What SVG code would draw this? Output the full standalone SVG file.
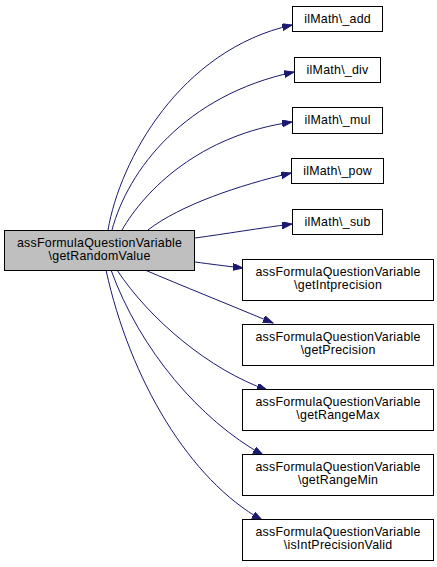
<svg xmlns="http://www.w3.org/2000/svg" width="437" height="567" viewBox="0 0 437 567">
<defs>
<style>
.n rect{fill:#fff;stroke:#000;stroke-width:1}
.n.main rect{fill:#bfbfbf}
.n text{font-family:"Liberation Sans",Arial,sans-serif;font-size:12.4px;letter-spacing:0.25px;fill:#000;text-anchor:middle}
#edges path{fill:none;stroke:#191970;stroke-width:1;marker-end:url(#ah)}
</style>
<marker id="ah" markerUnits="userSpaceOnUse" markerWidth="11" markerHeight="8" refX="10" refY="3.5" orient="auto">
<polygon points="0,0 10,3.5 0,7" fill="#191970" stroke="#191970"/>
</marker>
</defs>
<rect width="437" height="567" fill="#fff"/>
<g id="edges">
<path d="M108,230 C120,160 180,50 292,25"/>
<path d="M112,230 C128,170 185,95 294,72"/>
<path d="M122,230 C145,190 200,135 292,122"/>
<path d="M148,230 C180,205 240,185 291,173"/>
<path d="M195,238 C225,234 260,228 292,224"/>
<path d="M195,262 C210,264 225,266 243,268"/>
<path d="M145,270 C180,285 230,305 273,323"/>
<path d="M117,270 C150,320 210,370 267,390"/>
<path d="M111,270 C140,350 200,420 263,455"/>
<path d="M106,270 C130,380 190,480 262,520"/>
</g>
<g id="main" class="n main"><rect x="4.5" y="230.5" width="190" height="40"/><text x="99.6" y="247">assFormulaQuestionVariable</text><text x="99.6" y="260">\getRandomValue</text></g>
<g id="add" class="n"><rect x="292.5" y="6.5" width="90" height="25"/><text x="337.6" y="22.5">ilMath\_add</text></g>
<g id="div" class="n"><rect x="294.5" y="57.5" width="86" height="25"/><text x="337.6" y="73.5">ilMath\_div</text></g>
<g id="mul" class="n"><rect x="292.5" y="107.5" width="90" height="26"/><text x="337.6" y="124">ilMath\_mul</text></g>
<g id="pow" class="n"><rect x="291.5" y="158.5" width="92" height="25"/><text x="337.6" y="174.5">ilMath\_pow</text></g>
<g id="sub" class="n"><rect x="292.5" y="209.5" width="90" height="25"/><text x="337.6" y="225.5">ilMath\_sub</text></g>
<g id="getIntprecision" class="n"><rect x="242.5" y="259.5" width="191" height="41"/><text x="338.1" y="275.5">assFormulaQuestionVariable</text><text x="338.1" y="288.5">\getIntprecision</text></g>
<g id="getPrecision" class="n"><rect x="242.5" y="324.5" width="191" height="41"/><text x="338.1" y="340.5">assFormulaQuestionVariable</text><text x="338.1" y="353.5">\getPrecision</text></g>
<g id="getRangeMax" class="n"><rect x="242.5" y="389.5" width="191" height="41"/><text x="338.1" y="405.5">assFormulaQuestionVariable</text><text x="338.1" y="418.5">\getRangeMax</text></g>
<g id="getRangeMin" class="n"><rect x="242.5" y="454.5" width="191" height="41"/><text x="338.1" y="470.5">assFormulaQuestionVariable</text><text x="338.1" y="483.5">\getRangeMin</text></g>
<g id="isIntPrecisionValid" class="n"><rect x="242.5" y="519.5" width="191" height="41"/><text x="338.1" y="535.5">assFormulaQuestionVariable</text><text x="338.1" y="548.5">\isIntPrecisionValid</text></g>
</svg>
